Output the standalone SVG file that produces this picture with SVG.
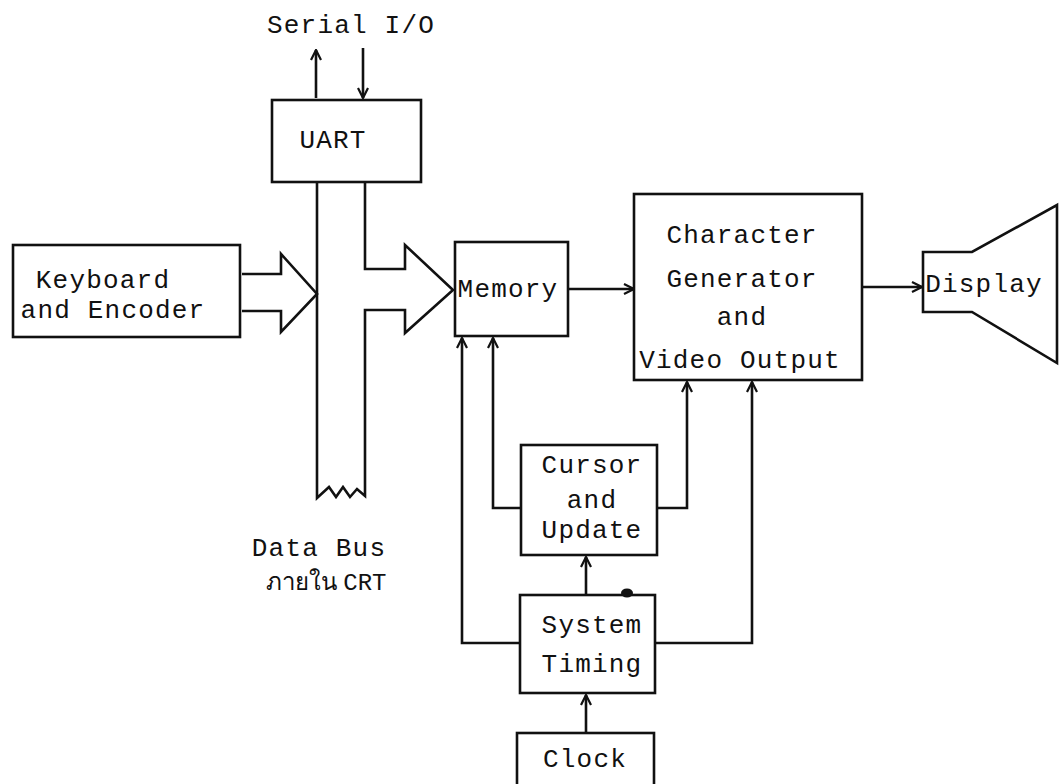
<svg xmlns="http://www.w3.org/2000/svg" width="1059" height="784" viewBox="0 0 1059 784">
<defs>
<style>
.box{fill:none;stroke:#111;stroke-width:2.6}
.ln{fill:none;stroke:#111;stroke-width:2.6;stroke-linejoin:miter}
.t{font-family:"Liberation Mono","DejaVu Sans Mono",monospace;font-size:26px;letter-spacing:1.2px;fill:#111;text-anchor:middle}
.th{font-family:"Noto Sans","DejaVu Sans",sans-serif;font-size:24px;fill:#111}
</style>
<marker id="ah" viewBox="0 0 12 12" refX="11" refY="6" markerWidth="12" markerHeight="12" markerUnits="userSpaceOnUse" orient="auto">
<path d="M1,1 L11,6 L1,11" fill="none" stroke="#111" stroke-width="2.2"/>
</marker>
</defs>
<rect width="1059" height="784" fill="#fff"/>

<g id="connectors">
<!-- Serial I/O arrows -->
<line class="ln" x1="316" y1="98" x2="316" y2="50" marker-end="url(#ah)"/>
<line class="ln" x1="363" y1="48" x2="363" y2="98" marker-end="url(#ah)"/>
<!-- Data bus -->
<path class="ln" d="M317,182 L317,498 L329,487 L336,497 L343,487 L350,497 L357,489 L365,496 L365,310 L405,310 L405,333 L453,290 L405,245 L405,269 L365,269 L365,182"/>
<!-- Keyboard big arrow -->
<path class="ln" d="M242,274 L281,274 L281,254 L317,294 L281,332 L281,311 L242,311"/>
<!-- Memory -> CharGen -->
<line class="ln" x1="568" y1="289" x2="634" y2="289" marker-end="url(#ah)"/>
<!-- CharGen -> Display -->
<line class="ln" x1="862" y1="287" x2="922" y2="287" marker-end="url(#ah)"/>
<!-- Cursor loops -->
<path class="ln" d="M521,508 L493,508 L493,338" marker-end="url(#ah)"/>
<path class="ln" d="M657,508 L687,508 L687,382" marker-end="url(#ah)"/>
<!-- System timing loops -->
<path class="ln" d="M520,643 L462,643 L462,338" marker-end="url(#ah)"/>
<path class="ln" d="M655,643 L752,643 L752,382" marker-end="url(#ah)"/>
<!-- System -> Cursor -->
<line class="ln" x1="586" y1="595" x2="586" y2="557" marker-end="url(#ah)"/>
<!-- Clock -> System -->
<line class="ln" x1="586" y1="733" x2="586" y2="695" marker-end="url(#ah)"/>
<ellipse cx="627" cy="593" rx="6" ry="4.5" fill="#111"/>
</g>

<g id="serial-io">
<text class="t" x="351" y="33">Serial I/O</text>
</g>

<g id="uart">
<rect class="box" x="272" y="100" width="149" height="82"/>
<text class="t" x="333" y="148">UART</text>
</g>

<g id="keyboard">
<rect class="box" x="13" y="245" width="227" height="92"/>
<text class="t" x="103" y="288">Keyboard</text>
<text class="t" x="113" y="318">and Encoder</text>
</g>

<g id="memory">
<rect class="box" x="455" y="242" width="113" height="94"/>
<text class="t" x="508" y="297">Memory</text>
</g>

<g id="chargen">
<rect class="box" x="634" y="194" width="228" height="186"/>
<text class="t" x="742" y="243">Character</text>
<text class="t" x="742" y="287">Generator</text>
<text class="t" x="742" y="325">and</text>
<text class="t" x="740" y="368">Video Output</text>
</g>

<g id="display">
<path class="ln" d="M923,252 L972,252 L1057,205 L1057,363 L972,312 L923,312 Z"/>
<text class="t" x="984" y="292">Display</text>
</g>

<g id="cursor">
<rect class="box" x="521" y="445" width="136" height="110"/>
<text class="t" x="592" y="473">Cursor</text>
<text class="t" x="592" y="508">and</text>
<text class="t" x="592" y="538">Update</text>
</g>

<g id="system-timing">
<rect class="box" x="520" y="595" width="135" height="98"/>
<text class="t" x="592" y="633">System</text>
<text class="t" x="592" y="672">Timing</text>
</g>

<g id="clock">
<rect class="box" x="517" y="733" width="137" height="70"/>
<text class="t" x="585" y="767">Clock</text>
</g>

<g id="databus-label">
<text class="t" x="319" y="556">Data Bus</text>
<text class="th" x="266" y="590">ภายใน <tspan font-family="Liberation Mono,monospace" font-size="24">CRT</tspan></text>
</g>
</svg>
